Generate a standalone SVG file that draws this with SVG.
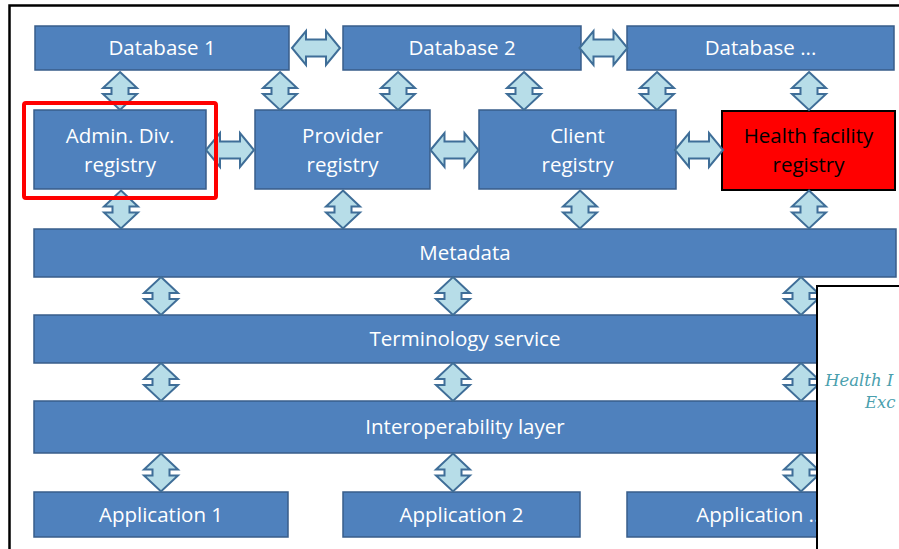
<svg xmlns="http://www.w3.org/2000/svg" xmlns:xlink="http://www.w3.org/1999/xlink" width="899" height="549" viewBox="0 0 899 549">
  <style>
    .box { fill: #4F81BD; stroke: #385D8A; stroke-width: 1.5; }
    .hot { fill: #FF0000; stroke: #000000; stroke-width: 2; }
    .lbl { font-family: "Open Sans", "Noto Sans", sans-serif; font-size: 20.5px; fill: #FFFFFF; text-anchor: middle; }
    .dark { fill: #000000; }
    .arr { fill: #B7DDE8; stroke: #3F6E98; stroke-width: 2; stroke-linejoin: miter; }
    .hl { fill: none; stroke: #FF0000; stroke-width: 4; }
    .hie { font-family: "DejaVu Serif", "Liberation Serif", serif; font-style: italic; font-size: 16.5px; fill: #4A9FAE; }
  </style>
  <defs>
    <!-- double-headed block arrows, centred on the origin -->
    <path id="va" d="M0,-19 L17,-3 L8.5,-3 L8.5,3 L17,3 L0,19 L-17,3 L-8.5,3 L-8.5,-3 L-17,-3 Z"/>
    <path id="ha" d="M-24,0 L-10,-17 L-10,-8.5 L10,-8.5 L10,-17 L24,0 L10,17 L10,8.5 L-10,8.5 L-10,17 Z"/>
  </defs>

  <rect x="0" y="0" width="899" height="549" fill="#FFFFFF"/>

  <!-- databases -->
  <g id="db1"><rect class="box" x="35" y="26" width="254" height="44"/><text class="lbl" x="162" y="55">Database 1</text></g>
  <g id="db2"><rect class="box" x="343" y="26" width="238" height="44"/><text class="lbl" x="462" y="55">Database 2</text></g>
  <g id="dbn"><rect class="box" x="627" y="26" width="267" height="44"/><text class="lbl" x="760.5" y="55">Database ...</text></g>

  <!-- registries -->
  <g id="admin"><rect class="box" x="34" y="110" width="172" height="79"/><text class="lbl" x="120" y="143">Admin. Div.</text><text class="lbl" x="120" y="172">registry</text></g>
  <g id="provider"><rect class="box" x="255" y="110" width="175" height="79"/><text class="lbl" x="342.5" y="143">Provider</text><text class="lbl" x="342.5" y="172">registry</text></g>
  <g id="client"><rect class="box" x="479" y="110" width="197" height="79"/><text class="lbl" x="577.5" y="143">Client</text><text class="lbl" x="577.5" y="172">registry</text></g>
  <g id="facility"><rect class="hot" x="722" y="111" width="173" height="79"/><text class="lbl dark" x="808.5" y="143">Health facility</text><text class="lbl dark" x="808.5" y="172">registry</text></g>

  <!-- shared layers -->
  <g id="metadata"><rect class="box" x="34" y="229" width="862" height="48"/><text class="lbl" x="465" y="260">Metadata</text></g>
  <g id="terminology"><rect class="box" x="34" y="315" width="862" height="48"/><text class="lbl" x="465" y="346">Terminology service</text></g>
  <g id="interop"><rect class="box" x="34" y="401" width="862" height="52"/><text class="lbl" x="465" y="434">Interoperability layer</text></g>

  <!-- applications -->
  <g id="app1"><rect class="box" x="34" y="492" width="254" height="45"/><text class="lbl" x="161" y="522">Application 1</text></g>
  <g id="app2"><rect class="box" x="343" y="492" width="237" height="45"/><text class="lbl" x="461.5" y="522">Application 2</text></g>
  <g id="appn"><rect class="box" x="627" y="492" width="267" height="45"/><text class="lbl" x="760.5" y="522">Application ...</text></g>

  <!-- connectors -->
  <g id="connectors" class="arr">
    <use xlink:href="#ha" href="#ha" transform="translate(316,48)"/>
    <use xlink:href="#ha" href="#ha" transform="translate(603.5,48)"/>
    <use xlink:href="#ha" href="#ha" transform="translate(230,150)"/>
    <use xlink:href="#ha" href="#ha" transform="translate(454.5,150)"/>
    <use xlink:href="#ha" href="#ha" transform="translate(699,150)"/>

    <use xlink:href="#va" href="#va" transform="translate(120,91)"/>
    <use xlink:href="#va" href="#va" transform="translate(280,91)"/>
    <use xlink:href="#va" href="#va" transform="translate(398,91)"/>
    <use xlink:href="#va" href="#va" transform="translate(524,91)"/>
    <use xlink:href="#va" href="#va" transform="translate(657,91)"/>
    <use xlink:href="#va" href="#va" transform="translate(809,91)"/>

    <use xlink:href="#va" href="#va" transform="translate(121,209.5)"/>
    <use xlink:href="#va" href="#va" transform="translate(343,209.5)"/>
    <use xlink:href="#va" href="#va" transform="translate(580,209.5)"/>
    <use xlink:href="#va" href="#va" transform="translate(809,209.5)"/>

    <use xlink:href="#va" href="#va" transform="translate(161,296)"/>
    <use xlink:href="#va" href="#va" transform="translate(453,296)"/>
    <use xlink:href="#va" href="#va" transform="translate(801,296)"/>

    <use xlink:href="#va" href="#va" transform="translate(161,382)"/>
    <use xlink:href="#va" href="#va" transform="translate(453,382)"/>
    <use xlink:href="#va" href="#va" transform="translate(801,382)"/>

    <use xlink:href="#va" href="#va" transform="translate(161,472.5)"/>
    <use xlink:href="#va" href="#va" transform="translate(453,472.5)"/>
    <use xlink:href="#va" href="#va" transform="translate(801,472.5)"/>
  </g>

  <!-- highlight around the admin division registry -->
  <rect class="hl" x="24" y="103" width="192" height="95" rx="2"/>

  <!-- inset panel in the lower right corner -->
  <g id="inset">
    <rect x="817" y="286" width="100" height="280" fill="#FFFFFF" stroke="#000000" stroke-width="2"/>
    <text class="hie" x="825" y="386">Health I</text>
    <text class="hie" x="865" y="408">Exc</text>
  </g>

  <!-- frame -->
  <path d="M9.5,549 V5.5 H899" fill="none" stroke="#000000" stroke-width="2.5"/>
</svg>
